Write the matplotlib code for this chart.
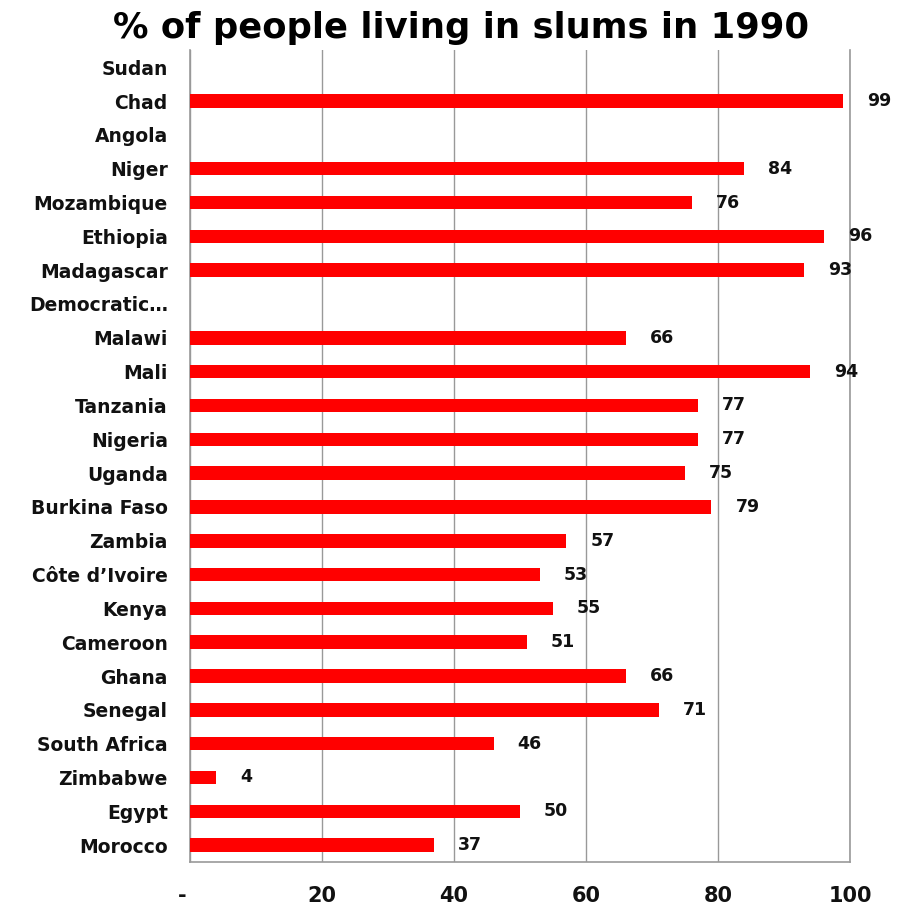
import matplotlib
matplotlib.use("Agg")
import matplotlib.pyplot as plt
import numpy as np

countries = ["Sudan", "Chad", "Angola", "Niger", "Mozambique", "Ethiopia", "Madagascar",
             "Democratic\u2026", "Malawi", "Mali", "Tanzania", "Nigeria", "Uganda",
             "Burkina Faso", "Zambia", "Côte d\u2019Ivoire", "Kenya", "Cameroon", "Ghana",
             "Senegal", "South Africa", "Zimbabwe", "Egypt", "Morocco"]
values = [None, 99, None, 84, 76, 96, 93, None, 66, 94, 77, 77, 75, 79, 57, 53, 55, 51,
          66, 71, 46, 4, 50, 37]
xticks = [0, 20, 40, 60, 80, 100]
xticklabels = ["-  ", "20", "40", "60", "80", "100"]

fig = plt.figure(figsize=(8.98, 9.10), dpi=100)
ax = fig.add_axes([0.2116, 0.0527, 0.735, 0.892])

y = np.arange(len(countries))
for yi, v in zip(y, values):
    if v is None:
        continue
    ax.barh(yi, v, height=0.4, color="#ff0000", zorder=3)
    ax.annotate(str(v), xy=(v, yi), xytext=(24, 0), textcoords="offset pixels",
                ha="left", va="center", fontsize=12.5, fontweight="bold",
                color="#111111")

ax.set_xlim(0, 100)
ax.set_ylim(len(countries) - 0.5, -0.5)
ax.set_yticks(y)
ax.set_yticklabels(countries, fontsize=13.5, fontweight="bold", color="#111111")
ax.set_xticks(xticks)
ax.set_xticklabels(xticklabels, fontsize=15, fontweight="bold", color="#111111")
ax.tick_params(axis="y", length=0, pad=16)
ax.tick_params(axis="x", length=0, pad=17)
ax.grid(axis="x", color="#999999", linewidth=1.0, zorder=0)
ax.spines["top"].set_visible(False)
for s in ["left", "bottom", "right"]:
    ax.spines[s].set_color("#999999")
    ax.spines[s].set_linewidth(1.2)

fig.text(0.513, 0.969, "% of people living in slums in 1990", ha="center", va="center",
         fontsize=25.5, fontweight="bold", color="#000000")

fig.savefig("out.png", dpi=100)
